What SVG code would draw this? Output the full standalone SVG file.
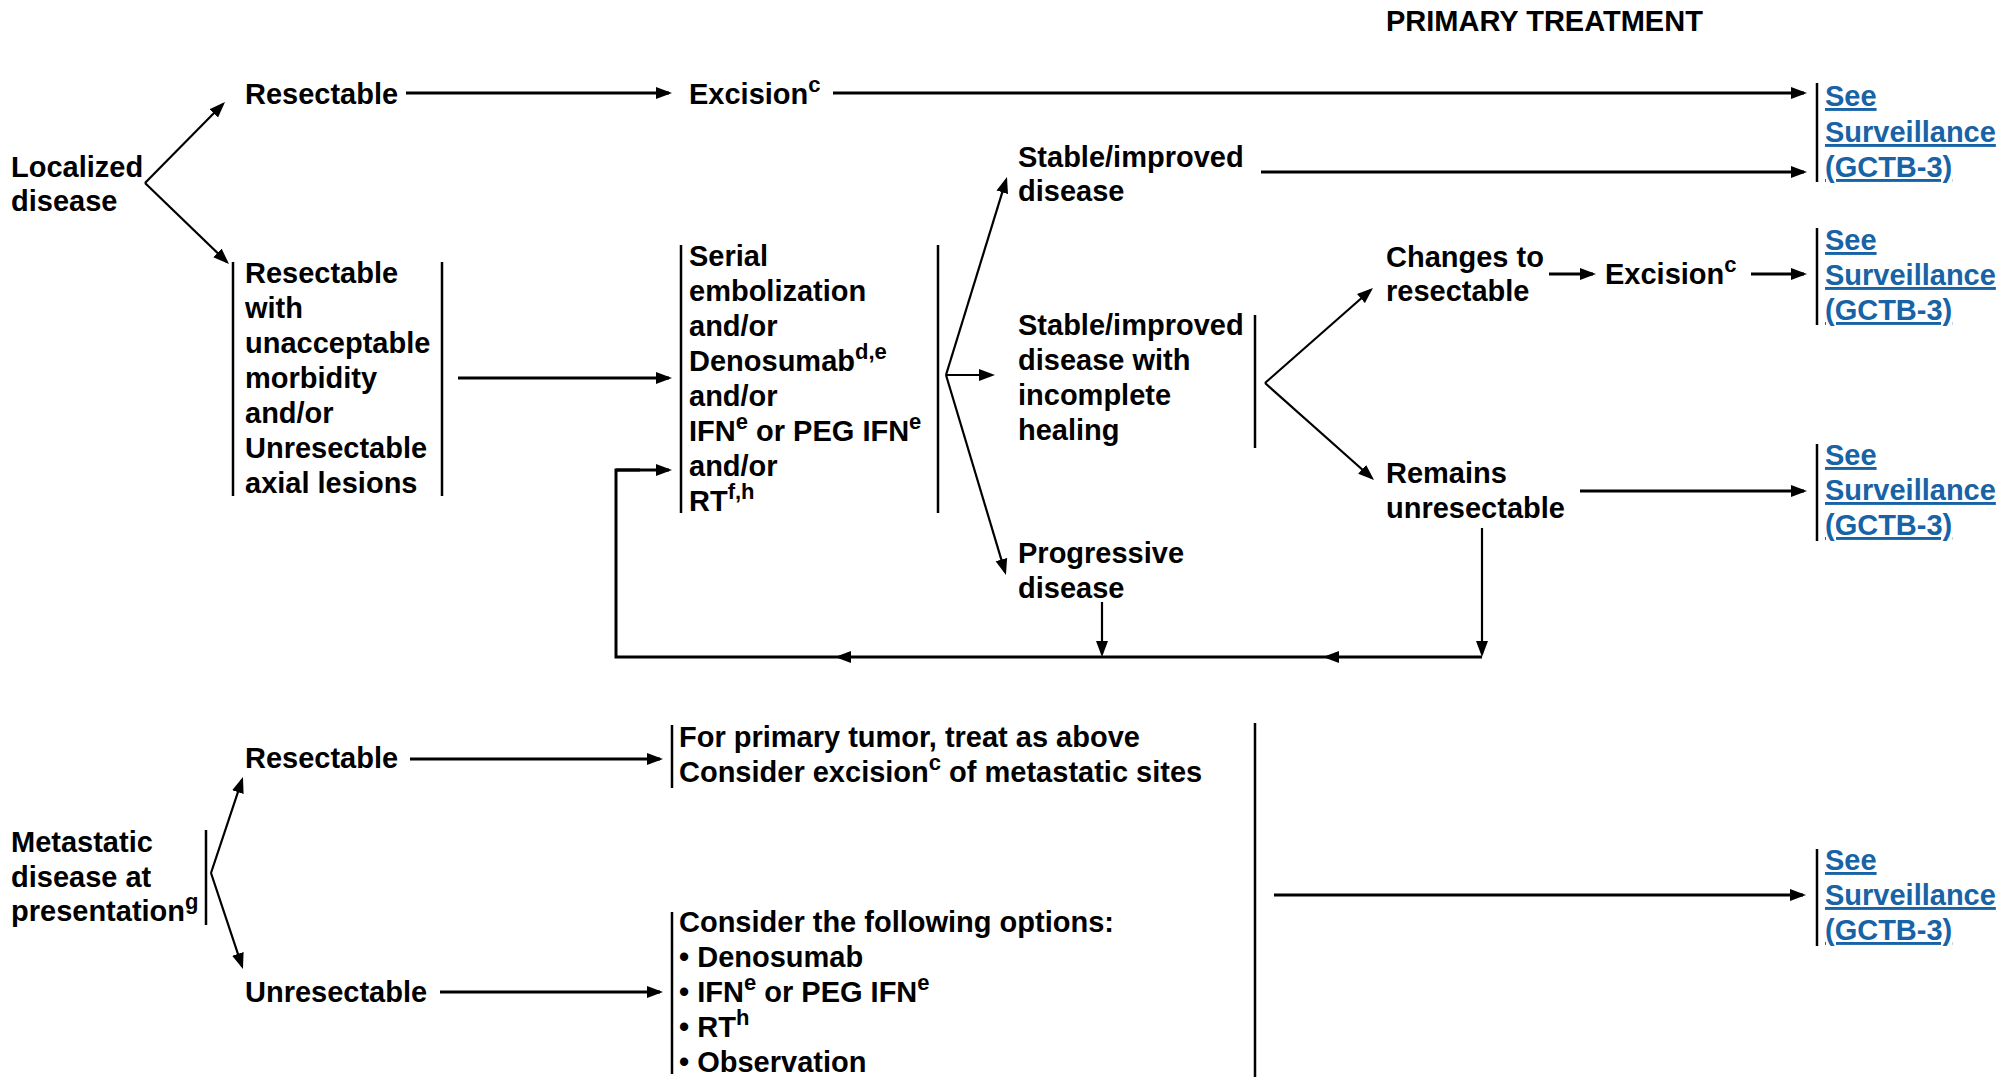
<svg xmlns="http://www.w3.org/2000/svg" width="2015" height="1077" viewBox="0 0 2015 1077">
<defs>
<style>
.t{font-family:"Liberation Sans",Arial,sans-serif;font-weight:bold;font-size:29px;fill:#000}
.s{font-size:22px}
.lk{font-family:"Liberation Sans",Arial,sans-serif;font-weight:bold;font-size:29px;fill:#1763a6;text-decoration:underline}
.bar{stroke:#000;stroke-width:2.5;fill:none}
.c{stroke:#000;stroke-width:3;fill:none}
.d{stroke:#000;stroke-width:2.2;fill:none}
.a{marker-end:url(#ah)}
</style>
<marker id="ah" markerWidth="17" markerHeight="13" refX="13" refY="6.5" orient="auto" markerUnits="userSpaceOnUse">
<path d="M0,0.5 L16,6.5 L0,12.5 Z" fill="#000"/>
</marker>
</defs>
<rect width="2015" height="1077" fill="#fff"/>

<g id="title"><text class="t" x="1386" y="31">PRIMARY TREATMENT</text></g>

<g id="localized"><text class="t" x="11" y="177">Localized</text><text class="t" x="11" y="211">disease</text></g>
<g id="resectable1"><text class="t" x="245" y="104">Resectable</text></g>
<g id="excision1"><text class="t" x="689" y="104">Excision<tspan class="s" dy="-12">c</tspan></text></g>
<g id="surv1"><line class="bar" x1="1817" y1="83" x2="1817" y2="182"/>
<text class="lk" x="1825" y="106">See</text><text class="lk" x="1825" y="142">Surveillance</text><text class="lk" x="1825" y="177">(GCTB-3)</text></g>

<g id="unacceptable"><line class="bar" x1="233" y1="262" x2="233" y2="496"/><line class="bar" x1="442" y1="262" x2="442" y2="496"/>
<text class="t" x="245" y="283">Resectable</text><text class="t" x="245" y="318">with</text><text class="t" x="245" y="353">unacceptable</text><text class="t" x="245" y="388">morbidity</text><text class="t" x="245" y="423">and/or</text><text class="t" x="245" y="458">Unresectable</text><text class="t" x="245" y="493">axial lesions</text></g>

<g id="serial"><line class="bar" x1="681" y1="245" x2="681" y2="513"/><line class="bar" x1="938" y1="245" x2="938" y2="513"/>
<text class="t" x="689" y="266">Serial</text><text class="t" x="689" y="301">embolization</text><text class="t" x="689" y="336">and/or</text><text class="t" x="689" y="371">Denosumab<tspan class="s" dy="-12">d,e</tspan></text><text class="t" x="689" y="406">and/or</text><text class="t" x="689" y="441">IFN<tspan class="s" dy="-12">e</tspan><tspan dy="12"> or PEG IFN</tspan><tspan class="s" dy="-12">e</tspan></text><text class="t" x="689" y="476">and/or</text><text class="t" x="689" y="511">RT<tspan class="s" dy="-12">f,h</tspan></text></g>

<g id="stable1"><text class="t" x="1018" y="167">Stable/improved</text><text class="t" x="1018" y="201">disease</text></g>
<g id="stable2"><line class="bar" x1="1255" y1="315" x2="1255" y2="448"/>
<text class="t" x="1018" y="335">Stable/improved</text><text class="t" x="1018" y="370">disease with</text><text class="t" x="1018" y="405">incomplete</text><text class="t" x="1018" y="440">healing</text></g>
<g id="progressive"><text class="t" x="1018" y="563">Progressive</text><text class="t" x="1018" y="598">disease</text></g>

<g id="changes"><text class="t" x="1386" y="267">Changes to</text><text class="t" x="1386" y="301">resectable</text></g>
<g id="excision2"><text class="t" x="1605" y="284">Excision<tspan class="s" dy="-12">c</tspan></text></g>
<g id="surv2"><line class="bar" x1="1817" y1="228" x2="1817" y2="325"/>
<text class="lk" x="1825" y="250">See</text><text class="lk" x="1825" y="285">Surveillance</text><text class="lk" x="1825" y="320">(GCTB-3)</text></g>

<g id="remains"><text class="t" x="1386" y="483">Remains</text><text class="t" x="1386" y="518">unresectable</text></g>
<g id="surv3"><line class="bar" x1="1817" y1="444" x2="1817" y2="541"/>
<text class="lk" x="1825" y="465">See</text><text class="lk" x="1825" y="500">Surveillance</text><text class="lk" x="1825" y="535">(GCTB-3)</text></g>

<g id="metastatic"><line class="bar" x1="206" y1="830" x2="206" y2="925"/>
<text class="t" x="11" y="852">Metastatic</text><text class="t" x="11" y="887">disease at</text><text class="t" x="11" y="921">presentation<tspan class="s" dy="-12">g</tspan></text></g>
<g id="resectable2"><text class="t" x="245" y="768">Resectable</text></g>
<g id="unresectable"><text class="t" x="245" y="1002">Unresectable</text></g>
<g id="treat"><line class="bar" x1="672" y1="725" x2="672" y2="788"/>
<text class="t" x="679" y="747">For primary tumor, treat as above</text><text class="t" x="679" y="782">Consider excision<tspan class="s" dy="-12">c</tspan><tspan dy="12"> of metastatic sites</tspan></text></g>
<g id="options"><line class="bar" x1="672" y1="912" x2="672" y2="1074"/>
<text class="t" x="679" y="932">Consider the following options:</text><text class="t" x="679" y="967">• Denosumab</text><text class="t" x="679" y="1002">• IFN<tspan class="s" dy="-12">e</tspan><tspan dy="12"> or PEG IFN</tspan><tspan class="s" dy="-12">e</tspan></text><text class="t" x="679" y="1037">• RT<tspan class="s" dy="-12">h</tspan></text><text class="t" x="679" y="1072">• Observation</text></g>
<g id="bigbar"><line class="bar" x1="1255" y1="723" x2="1255" y2="1077"/></g>
<g id="surv4"><line class="bar" x1="1817" y1="849" x2="1817" y2="946"/>
<text class="lk" x="1825" y="870">See</text><text class="lk" x="1825" y="905">Surveillance</text><text class="lk" x="1825" y="940">(GCTB-3)</text></g>

<g id="connectors">
<line class="d a" x1="145" y1="183" x2="222.9" y2="104.1"/>
<line class="d a" x1="145" y1="183" x2="226.8" y2="261.9"/>
<line class="c a" x1="406" y1="93" x2="669" y2="93"/>
<line class="c a" x1="833" y1="93" x2="1804" y2="93"/>
<line class="c a" x1="1261" y1="172" x2="1804" y2="172"/>
<line class="c a" x1="458" y1="378" x2="669" y2="378"/>
<line class="d a" x1="946" y1="375" x2="1006.1" y2="179.9"/>
<line class="d a" x1="946" y1="375" x2="992" y2="375"/>
<line class="d a" x1="946" y1="375" x2="1005.1" y2="572.1"/>
<line class="d a" x1="1265" y1="383" x2="1370.7" y2="290"/>
<line class="d a" x1="1265" y1="383" x2="1371.8" y2="478"/>
<line class="c a" x1="1549" y1="274" x2="1593" y2="274"/>
<line class="c a" x1="1751" y1="274" x2="1804" y2="274"/>
<line class="c a" x1="1580" y1="491" x2="1804" y2="491"/>
<line class="d a" x1="1482" y1="528" x2="1482" y2="654"/>
<line class="c a" x1="1482" y1="657" x2="1326" y2="657"/>
<line class="c a" x1="1326" y1="657" x2="838" y2="657"/>
<polyline class="c" points="838,657 616,657 616,470 640,470"/>
<line class="c a" x1="616" y1="470" x2="669" y2="470"/>
<line class="d a" x1="1102" y1="602" x2="1102" y2="654"/>
<line class="d a" x1="211" y1="873" x2="242" y2="779.8"/>
<line class="d a" x1="211" y1="873" x2="242" y2="966.2"/>
<line class="c a" x1="410" y1="759" x2="660" y2="759"/>
<line class="c a" x1="440" y1="992" x2="660" y2="992"/>
<line class="c a" x1="1274" y1="895" x2="1803" y2="895"/>
</g>
</svg>
